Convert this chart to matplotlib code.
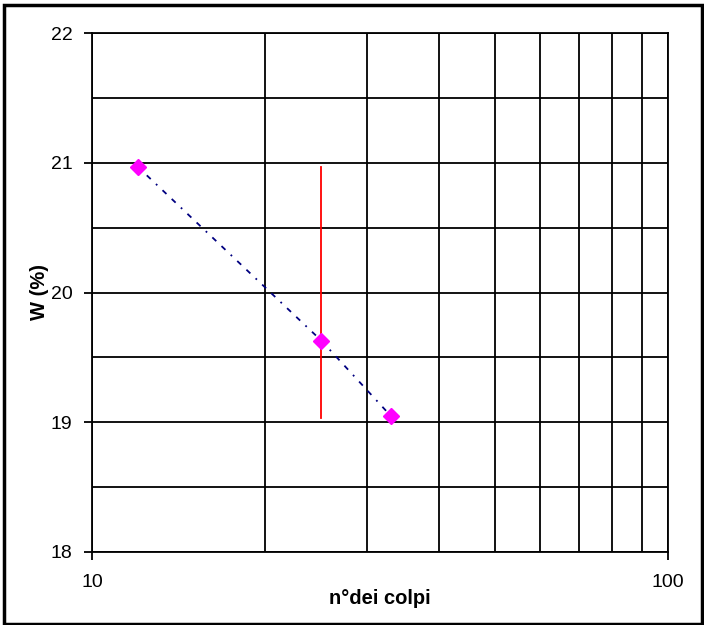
import matplotlib.pyplot as plt
import matplotlib.ticker as mticker
from matplotlib.patches import Rectangle

plt.rcParams['font.family'] = ['Liberation Sans', 'DejaVu Sans']

# data
colpi = [12, 25, 33]
w_pct = [20.97, 19.63, 19.05]
# red marker line at 25 blows
ref_x = [25, 25]
ref_y = [19.03, 20.97]

fig = plt.figure(figsize=(7.04, 6.25), dpi=100)
ax = fig.add_axes([92 / 704, 1 - 552 / 625, (668 - 92) / 704, (552 - 33) / 625])

ax.set_xscale('log')
ax.set_xlim(10, 100)
ax.set_ylim(18, 22)

# grid
ax.xaxis.set_major_locator(mticker.FixedLocator([10, 100]))
ax.xaxis.set_minor_locator(mticker.FixedLocator(range(20, 100, 10)))
ax.xaxis.set_major_formatter(mticker.FixedFormatter(['10', '100']))
ax.xaxis.set_minor_formatter(mticker.NullFormatter())
ax.yaxis.set_major_locator(mticker.MultipleLocator(1))
ax.yaxis.set_minor_locator(mticker.MultipleLocator(0.5))
ax.grid(True, which='both', color='black', linewidth=1.3)
ax.set_axisbelow(True)

ax.tick_params(which='minor', length=0)
ax.tick_params(which='major', direction='out', length=6, width=1.3,
               labelsize=14)
ax.tick_params(axis='y', which='major', pad=8)
ax.tick_params(axis='x', which='major', pad=10)
for s in ax.spines.values():
    s.set_linewidth(1.3)

ax.plot(ref_x, ref_y, color='red', linewidth=1.3, zorder=3)
ax.plot(colpi, w_pct, color='#000080', linestyle=(0, (3, 4, 3, 4, 1, 4)),
        linewidth=1.3, zorder=4)
ax.plot(colpi, w_pct, linestyle='none', marker='D', markersize=8.5,
        color='#ff00ff', zorder=5)

ax.set_xlabel('n°dei colpi', fontsize=14.5, fontweight='bold')
ax.set_ylabel('W (%)', fontsize=14.5, fontweight='bold')
ax.xaxis.set_label_coords(0.5, -0.072)
ax.yaxis.set_label_coords(-0.074, 0.5)

fig.patches.append(Rectangle((4 / 704, 1 - 624 / 625), 698 / 704, 619 / 625,
                             transform=fig.transFigure, fill=False,
                             edgecolor='black', linewidth=2.5))

fig.savefig('out.png', dpi=100)
